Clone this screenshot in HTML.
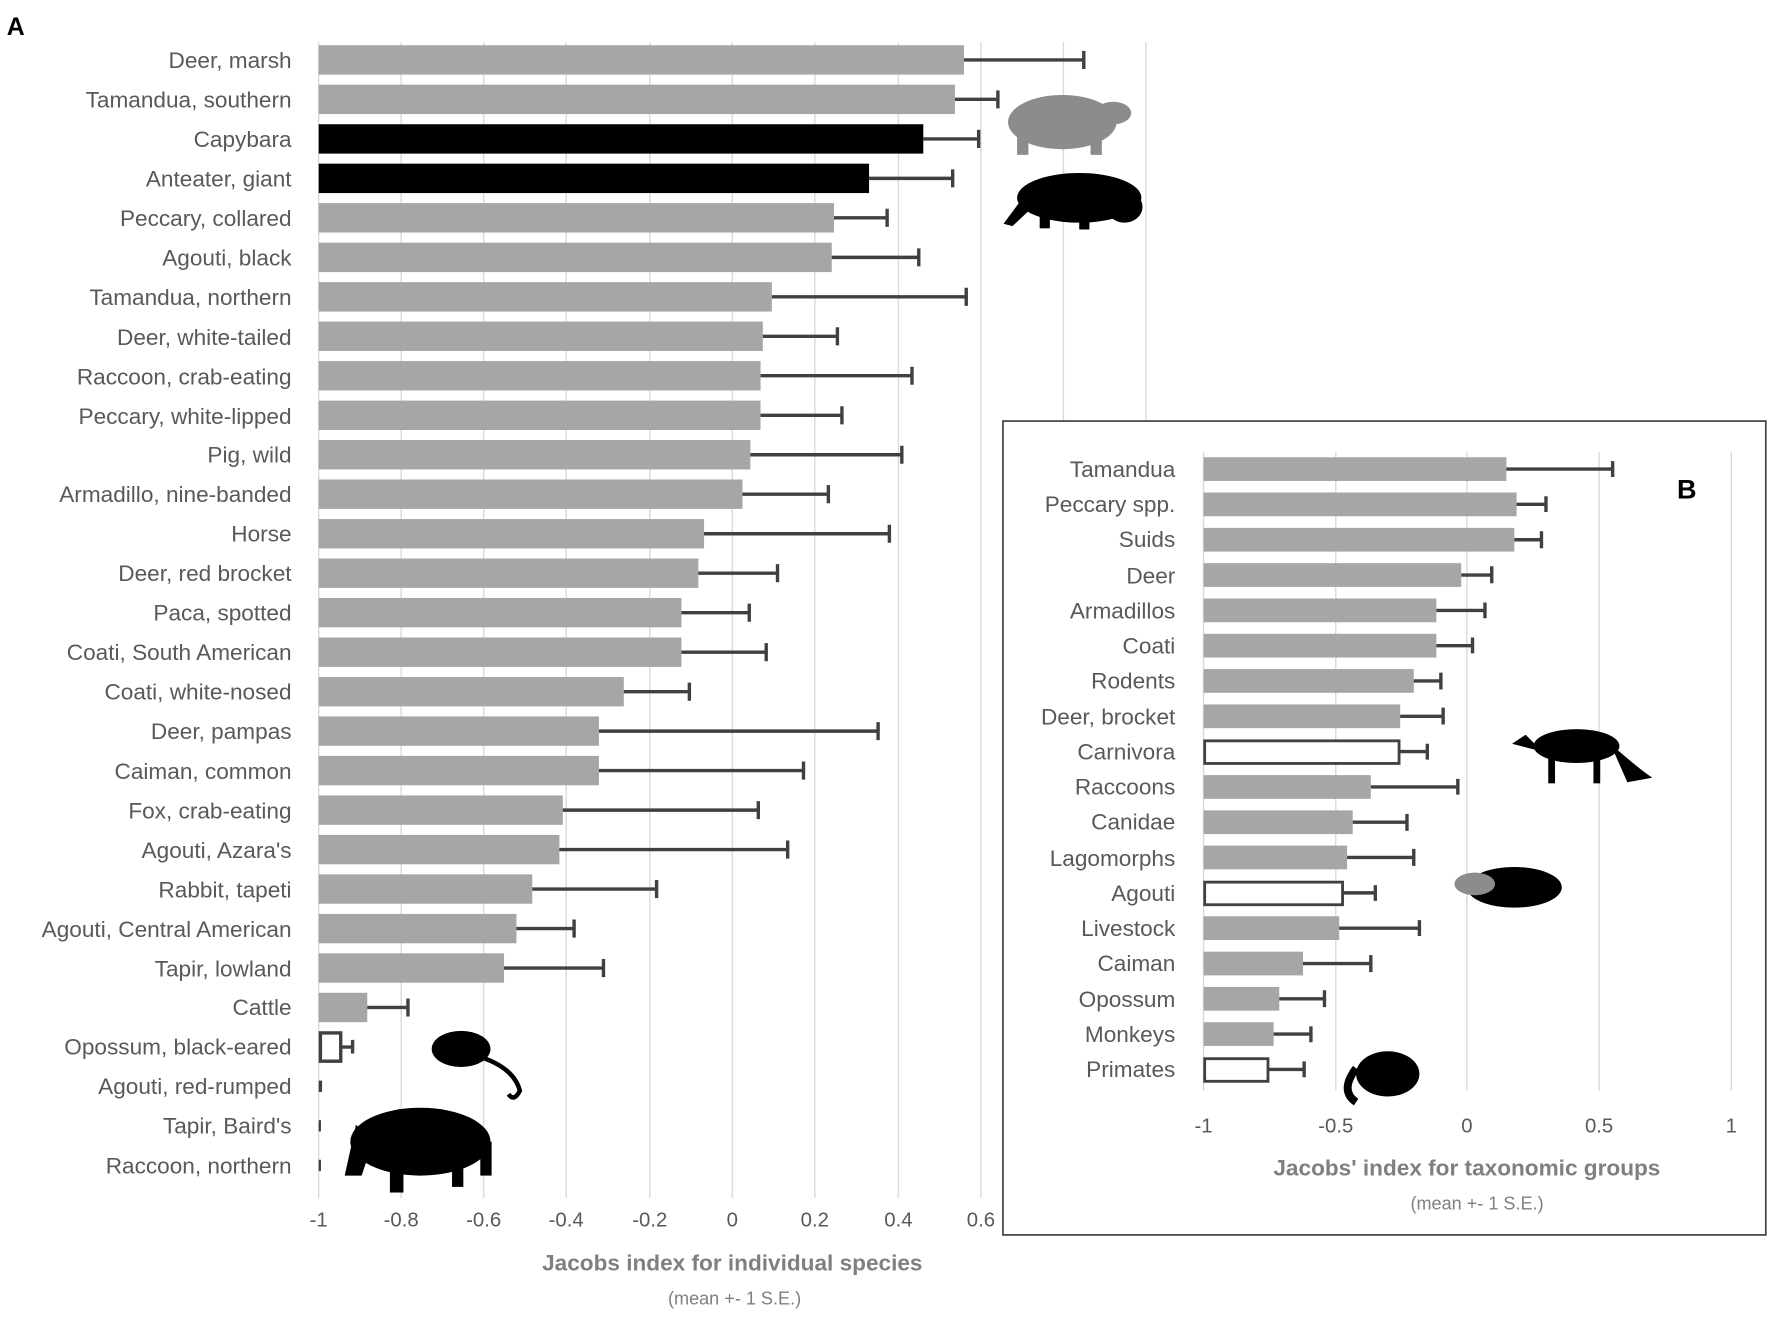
<!DOCTYPE html>
<html><head><meta charset="utf-8"><style>html,body{margin:0;padding:0;background:#fff}svg{display:block}</style></head>
<body>
<svg width="1772" height="1318" viewBox="0 0 1568 1166" preserveAspectRatio="none" xmlns="http://www.w3.org/2000/svg" font-family="Liberation Sans, sans-serif">
<rect width="1568" height="1166" fill="#fff"/>
<text x="6" y="31" font-size="22" font-weight="bold" fill="#000">A</text>
<!-- grid A -->
<g stroke="#d9d9d9" stroke-width="1.2">
<line x1="282" y1="37" x2="282" y2="1060"/><line x1="355" y1="37" x2="355" y2="1060"/><line x1="428" y1="37" x2="428" y2="1060"/><line x1="501" y1="37" x2="501" y2="1060"/><line x1="575" y1="37" x2="575" y2="1060"/><line x1="648" y1="37" x2="648" y2="1060"/><line x1="721" y1="37" x2="721" y2="1060"/><line x1="795" y1="37" x2="795" y2="1060"/><line x1="868" y1="37" x2="868" y2="1060"/><line x1="941" y1="37" x2="941" y2="1060"/><line x1="1014" y1="37" x2="1014" y2="1060"/>
</g>
<!-- bars A -->
<g fill="#a6a6a6">
<rect x="282" y="40" width="571" height="26"/>
<rect x="282" y="74.9" width="563" height="26"/>
<rect x="282" y="109.9" width="535" height="26" fill="#000"/>
<rect x="282" y="144.8" width="487" height="26" fill="#000"/>
<rect x="282" y="179.7" width="456" height="26"/>
<rect x="282" y="214.7" width="454" height="26"/>
<rect x="282" y="249.6" width="401" height="26"/>
<rect x="282" y="284.5" width="393" height="26"/>
<rect x="282" y="319.4" width="391" height="26"/>
<rect x="282" y="354.4" width="391" height="26"/>
<rect x="282" y="389.3" width="382" height="26"/>
<rect x="282" y="424.2" width="375" height="26"/>
<rect x="282" y="459.2" width="341" height="26"/>
<rect x="282" y="494.1" width="336" height="26"/>
<rect x="282" y="529" width="321" height="26"/>
<rect x="282" y="564" width="321" height="26"/>
<rect x="282" y="598.9" width="270" height="26"/>
<rect x="282" y="633.8" width="248" height="26"/>
<rect x="282" y="668.7" width="248" height="26"/>
<rect x="282" y="703.7" width="216" height="26"/>
<rect x="282" y="738.6" width="213" height="26"/>
<rect x="282" y="773.5" width="189" height="26"/>
<rect x="282" y="808.5" width="175" height="26"/>
<rect x="282" y="843.4" width="164" height="26"/>
<rect x="282" y="878.3" width="43" height="26"/>
<rect x="283.5" y="913.8" width="18" height="25" fill="#fff" stroke="#404040" stroke-width="3"/>
<rect x="282" y="956" width="3" height="10" fill="#404040"/>
<rect x="282" y="991" width="2" height="10" fill="#404040"/>
<rect x="282" y="1026" width="2" height="10" fill="#404040"/>
</g>
<!-- errors A -->
<g stroke="#404040" stroke-width="3" fill="none">
<path d="M853 53H959M959 45V61"/>
<path d="M845 87.9H883M883 79.9V95.9"/>
<path d="M817 122.9H866M866 114.9V130.9"/>
<path d="M769 157.8H843M843 149.8V165.8"/>
<path d="M738 192.7H785M785 184.7V200.7"/>
<path d="M736 227.7H813M813 219.7V235.7"/>
<path d="M683 262.6H855M855 254.6V270.6"/>
<path d="M675 297.5H741M741 289.5V305.5"/>
<path d="M673 332.4H807M807 324.4V340.4"/>
<path d="M673 367.4H745M745 359.4V375.4"/>
<path d="M664 402.3H798M798 394.3V410.3"/>
<path d="M657 437.2H733M733 429.2V445.2"/>
<path d="M623 472.2H787M787 464.2V480.2"/>
<path d="M618 507.1H688M688 499.1V515.1"/>
<path d="M603 542H663M663 534V550"/>
<path d="M603 577H678M678 569V585"/>
<path d="M552 611.9H610M610 603.9V619.9"/>
<path d="M530 646.8H777M777 638.8V654.8"/>
<path d="M530 681.7H711M711 673.7V689.7"/>
<path d="M498 716.7H671M671 708.7V724.7"/>
<path d="M495 751.6H697M697 743.6V759.6"/>
<path d="M471 786.5H581M581 778.5V794.5"/>
<path d="M457 821.5H508M508 813.5V829.5"/>
<path d="M446 856.4H534M534 848.4V864.4"/>
<path d="M325 891.3H361M361 883.3V899.3"/>
<path d="M302 926.3H312M312 920V932"/>
</g>
<!-- labels A -->
<g font-size="20" fill="#595959" text-anchor="end">
<text x="258" y="60">Deer, marsh</text>
<text x="258" y="95">Tamandua, southern</text>
<text x="258" y="130">Capybara</text>
<text x="258" y="165">Anteater, giant</text>
<text x="258" y="200">Peccary, collared</text>
<text x="258" y="235">Agouti, black</text>
<text x="258" y="270">Tamandua, northern</text>
<text x="258" y="305">Deer, white-tailed</text>
<text x="258" y="340">Raccoon, crab-eating</text>
<text x="258" y="375">Peccary, white-lipped</text>
<text x="258" y="409">Pig, wild</text>
<text x="258" y="444">Armadillo, nine-banded</text>
<text x="258" y="479">Horse</text>
<text x="258" y="514">Deer, red brocket</text>
<text x="258" y="549">Paca, spotted</text>
<text x="258" y="584">Coati, South American</text>
<text x="258" y="619">Coati, white-nosed</text>
<text x="258" y="654">Deer, pampas</text>
<text x="258" y="689">Caiman, common</text>
<text x="258" y="724">Fox, crab-eating</text>
<text x="258" y="759">Agouti, Azara's</text>
<text x="258" y="794">Rabbit, tapeti</text>
<text x="258" y="829">Agouti, Central American</text>
<text x="258" y="864">Tapir, lowland</text>
<text x="258" y="898">Cattle</text>
<text x="258" y="933">Opossum, black-eared</text>
<text x="258" y="968">Agouti, red-rumped</text>
<text x="258" y="1003">Tapir, Baird's</text>
<text x="258" y="1038">Raccoon, northern</text>
</g>
<g font-size="18" fill="#595959" text-anchor="middle">
<text x="282" y="1085">-1</text><text x="355" y="1085">-0.8</text><text x="428" y="1085">-0.6</text><text x="501" y="1085">-0.4</text><text x="575" y="1085">-0.2</text><text x="648" y="1085">0</text><text x="721" y="1085">0.2</text><text x="795" y="1085">0.4</text><text x="868" y="1085">0.6</text>
</g>
<text x="648" y="1124" font-size="20" font-weight="bold" fill="#7f7f7f" text-anchor="middle">Jacobs index for individual species</text>
<text x="650" y="1154" font-size="16" fill="#7f7f7f" text-anchor="middle">(mean +- 1 S.E.)</text>
<!-- silhouettes A -->
<g fill="#8c8c8c">
<ellipse cx="940" cy="108" rx="48" ry="24"/><ellipse cx="985" cy="100" rx="16" ry="10"/>
<rect x="900" y="115" width="10" height="22"/><rect x="965" y="115" width="10" height="22"/>
</g>
<g fill="#000">
<ellipse cx="955" cy="175" rx="55" ry="22"/><ellipse cx="995" cy="183" rx="16" ry="14"/>
<path d="M905 175 L888 198 L896 200 L915 182Z"/>
<rect x="920" y="182" width="9" height="20"/><rect x="955" y="185" width="9" height="18"/>
<ellipse cx="408" cy="928" rx="26" ry="16"/><path d="M425 935 Q455 945 460 965 Q455 975 450 968" stroke="#000" stroke-width="4" fill="none"/>
<ellipse cx="372" cy="1010" rx="62" ry="30"/><path d="M315 995 L305 1040 L320 1040 L330 1010Z"/>
<rect x="345" y="1025" width="12" height="30"/><rect x="400" y="1020" width="10" height="30"/><rect x="425" y="1010" width="10" height="30"/>
</g>
<!-- Panel B -->
<rect x="887.5" y="372.5" width="675" height="720" fill="#fff" stroke="#404040" stroke-width="1.5"/>
<text x="1484" y="441" font-size="24" font-weight="bold" fill="#000">B</text>
<g stroke="#d9d9d9" stroke-width="1.2">
<line x1="1065" y1="400" x2="1065" y2="965"/><line x1="1182" y1="400" x2="1182" y2="965"/><line x1="1298" y1="400" x2="1298" y2="965"/><line x1="1415" y1="400" x2="1415" y2="965"/><line x1="1532" y1="400" x2="1532" y2="965"/>
</g>
<g fill="#a6a6a6">
<rect x="1065" y="404.5" width="268" height="21"/>
<rect x="1065" y="435.7" width="277" height="21"/>
<rect x="1065" y="467" width="275" height="21"/>
<rect x="1065" y="498.2" width="228" height="21"/>
<rect x="1065" y="529.5" width="206" height="21"/>
<rect x="1065" y="560.7" width="206" height="21"/>
<rect x="1065" y="591.9" width="186" height="21"/>
<rect x="1065" y="623.2" width="174" height="21"/>
<rect x="1066" y="655.4" width="172" height="20" fill="#fff" stroke="#404040" stroke-width="2.5"/>
<rect x="1065" y="685.7" width="148" height="21"/>
<rect x="1065" y="716.9" width="132" height="21"/>
<rect x="1065" y="748.1" width="127" height="21"/>
<rect x="1066" y="780.4" width="122" height="20" fill="#fff" stroke="#404040" stroke-width="2.5"/>
<rect x="1065" y="810.6" width="120" height="21"/>
<rect x="1065" y="841.9" width="88" height="21"/>
<rect x="1065" y="873.1" width="67" height="21"/>
<rect x="1065" y="904.3" width="62" height="21"/>
<rect x="1066" y="936.6" width="56" height="20" fill="#fff" stroke="#404040" stroke-width="2.5"/>
</g>
<g stroke="#404040" stroke-width="3" fill="none">
<path d="M1333 415H1427M1427 408V422"/>
<path d="M1342 446.2H1368M1368 439V453"/>
<path d="M1340 477.5H1364M1364 470V485"/>
<path d="M1293 508.7H1320M1320 501V516"/>
<path d="M1271 540H1314M1314 533V547"/>
<path d="M1271 571.2H1303M1303 564V578"/>
<path d="M1251 602.4H1275M1275 595V610"/>
<path d="M1239 633.7H1277M1277 626V641"/>
<path d="M1238 664.9H1263M1263 658V672"/>
<path d="M1213 696.2H1290M1290 689V703"/>
<path d="M1197 727.4H1245M1245 720V735"/>
<path d="M1192 758.6H1251M1251 751V766"/>
<path d="M1188 789.9H1217M1217 783V797"/>
<path d="M1185 821.1H1256M1256 814V828"/>
<path d="M1153 852.4H1213M1213 845V860"/>
<path d="M1132 883.6H1172M1172 876V891"/>
<path d="M1127 914.8H1160M1160 908V922"/>
<path d="M1122 946.1H1154M1154 939V953"/>
</g>
<g font-size="20" fill="#595959" text-anchor="end">
<text x="1040" y="422">Tamandua</text>
<text x="1040" y="453">Peccary spp.</text>
<text x="1040" y="484">Suids</text>
<text x="1040" y="516">Deer</text>
<text x="1040" y="547">Armadillos</text>
<text x="1040" y="578">Coati</text>
<text x="1040" y="609">Rodents</text>
<text x="1040" y="641">Deer, brocket</text>
<text x="1040" y="672">Carnivora</text>
<text x="1040" y="703">Raccoons</text>
<text x="1040" y="734">Canidae</text>
<text x="1040" y="766">Lagomorphs</text>
<text x="1040" y="797">Agouti</text>
<text x="1040" y="828">Livestock</text>
<text x="1040" y="859">Caiman</text>
<text x="1040" y="891">Opossum</text>
<text x="1040" y="922">Monkeys</text>
<text x="1040" y="953">Primates</text>
</g>
<g font-size="18" fill="#595959" text-anchor="middle">
<text x="1065" y="1002">-1</text><text x="1182" y="1002">-0.5</text><text x="1298" y="1002">0</text><text x="1415" y="1002">0.5</text><text x="1532" y="1002">1</text>
</g>
<text x="1298" y="1040" font-size="20" font-weight="bold" fill="#7f7f7f" text-anchor="middle">Jacobs' index for taxonomic groups</text>
<text x="1307" y="1070" font-size="16" fill="#7f7f7f" text-anchor="middle">(mean +- 1 S.E.)</text>
<g fill="#000">
<ellipse cx="1395" cy="660" rx="38" ry="15"/><path d="M1350 650 L1338 658 L1365 665Z"/><path d="M1425 658 Q1450 680 1462 688 L1440 692Z"/>
<rect x="1370" y="665" width="6" height="28"/><rect x="1410" y="665" width="6" height="28"/>
<ellipse cx="1340" cy="785" rx="42" ry="18"/>
<ellipse cx="1228" cy="950" rx="28" ry="20"/><path d="M1200 945 Q1185 965 1200 975" stroke="#000" stroke-width="7" fill="none"/>
</g>
<ellipse cx="1305" cy="782" rx="18" ry="10" fill="#8c8c8c"/>
</svg>
</body></html>
